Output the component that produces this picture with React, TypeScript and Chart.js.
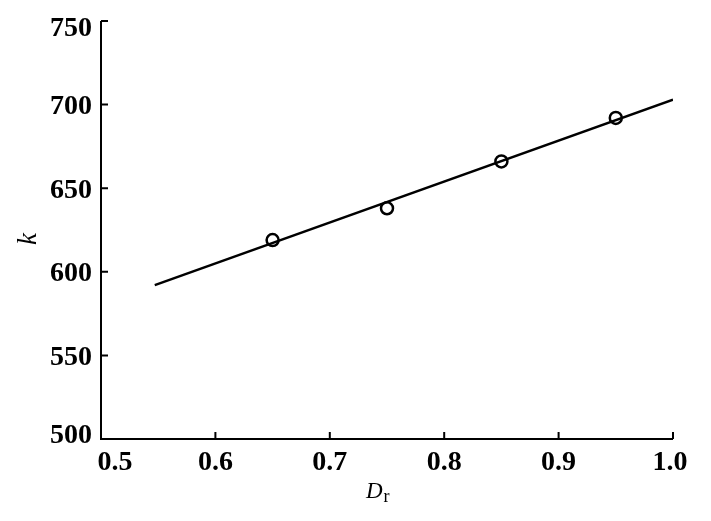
import React, { useEffect, useRef } from "react";
import { Chart, registerables } from "chart.js";

Chart.register(...registerables);

const drValues = [0.65, 0.75, 0.85, 0.95];
const kValues = [619, 638, 666, 692];
const fitX = [0.547, 1.0];
const fitY = [592, 703];
const xTicks = [0.5, 0.6, 0.7, 0.8, 0.9, 1.0];
const yTicks = [500, 550, 600, 650, 700, 750];

const FONT = "'Liberation Serif', 'Times New Roman', serif";

const decor = {
  id: "decor",
  afterDraw(chart: any) {
    const ctx = chart.ctx;
    const xs = chart.scales.x;
    const ys = chart.scales.y;
    const area = chart.chartArea;
    ctx.save();
    ctx.strokeStyle = "#000";
    ctx.lineWidth = 2;
    ctx.beginPath();
    ctx.moveTo(area.left, area.top);
    ctx.lineTo(area.left, area.bottom);
    ctx.lineTo(area.right, area.bottom);
    ctx.stroke();
    ctx.beginPath();
    for (const v of yTicks) {
      const y = ys.getPixelForValue(v);
      ctx.moveTo(area.left, y);
      ctx.lineTo(area.left + 7, y);
    }
    for (const v of xTicks) {
      const x = xs.getPixelForValue(v);
      ctx.moveTo(x, area.bottom);
      ctx.lineTo(x, area.bottom - 7);
    }
    ctx.stroke();

    // tick labels (edge labels kept inside the axis span)
    ctx.fillStyle = "#000";
    ctx.font = `bold 28px ${FONT}`;
    ctx.textBaseline = "alphabetic";
    ctx.textAlign = "right";
    for (const v of yTicks) {
      const p = ys.getPixelForValue(v);
      const c = Math.min(Math.max(p, area.top + 5.5), area.bottom - 6);
      ctx.fillText(String(v), area.left - 9, c + 9.5);
    }
    ctx.textAlign = "center";
    for (const v of xTicks) {
      const p = xs.getPixelForValue(v);
      const c = Math.min(Math.max(p, area.left + 14), area.right - 3);
      ctx.fillText(v.toFixed(1), c, area.bottom + 31);
    }

    // y title (rotated)
    ctx.save();
    ctx.translate(36, 239);
    ctx.rotate(-Math.PI / 2);
    ctx.font = `italic 27px ${FONT}`;
    ctx.textAlign = "center";
    ctx.textBaseline = "alphabetic";
    ctx.fillText("k", 0, 0);
    ctx.restore();

    // x title D_r
    ctx.textAlign = "left";
    ctx.textBaseline = "alphabetic";
    ctx.font = `italic 23px ${FONT}`;
    const dW = ctx.measureText("D").width;
    const startX = 366;
    ctx.fillText("D", startX, 498);
    ctx.font = `18px ${FONT}`;
    ctx.fillText("r", startX + dW + 1, 502);
    ctx.restore();
  },
};

export default function App() {
  const ref = useRef<HTMLCanvasElement>(null);
  useEffect(() => {
    document.body.style.margin = "0";
    const chart = new Chart(ref.current!, {
      type: "scatter",
      data: {
        datasets: [
          {
            label: "fit",
            data: fitX.map((x, i) => ({ x, y: fitY[i] })),
            showLine: true,
            borderColor: "#000",
            borderWidth: 2.5,
            pointRadius: 0,
            fill: false,
          },
          {
            label: "k",
            data: drValues.map((x, i) => ({ x, y: kValues[i] })),
            showLine: false,
            pointRadius: 6,
            pointBorderWidth: 2.5,
            pointBorderColor: "#000",
            pointBackgroundColor: "#fff",
          },
        ],
      },
      options: {
        animation: false,
        responsive: false,
        layout: { padding: { top: 21, right: 38, left: 0, bottom: 0 } },
        plugins: { legend: { display: false }, tooltip: { enabled: false } },
        scales: {
          x: {
            type: "linear",
            min: 0.5,
            max: 1.0,
            border: { display: false },
            grid: { display: false, drawTicks: false },
            afterBuildTicks: (s: any) => {
              s.ticks = xTicks.map((v) => ({ value: v }));
            },
            afterFit: (s: any) => {
              s.height = 82;
            },
            ticks: { display: false },
          },
          y: {
            min: 500,
            max: 750,
            border: { display: false },
            grid: { display: false, drawTicks: false },
            afterBuildTicks: (s: any) => {
              s.ticks = yTicks.map((v) => ({ value: v }));
            },
            afterFit: (s: any) => {
              s.width = 101;
            },
            ticks: { display: false },
          },
        },
      },
      plugins: [decor],
    });
    return () => chart.destroy();
  }, []);
  return <canvas ref={ref} width={711} height={521} style={{ display: "block" }} />;
}
